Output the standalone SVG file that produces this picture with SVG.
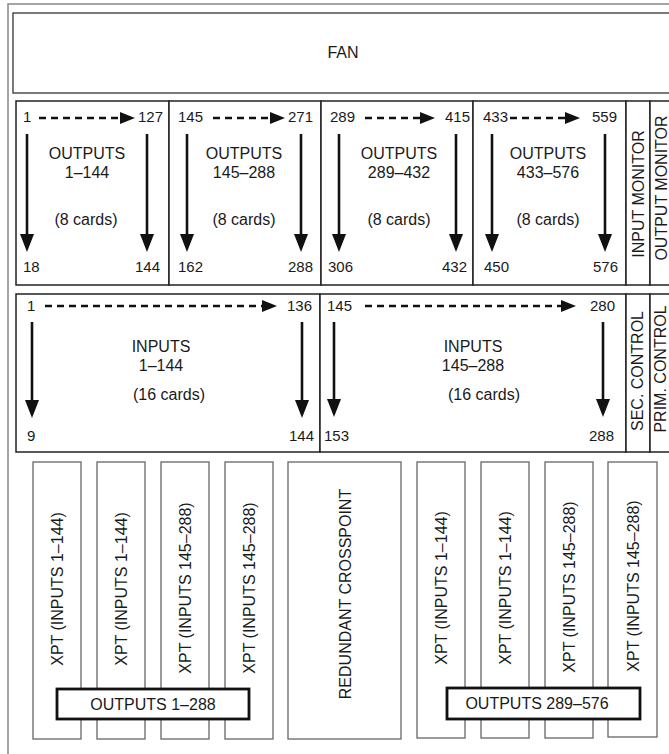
<svg xmlns="http://www.w3.org/2000/svg" width="669" height="754" viewBox="0 0 669 754">
<defs>
<marker id="ah" markerUnits="userSpaceOnUse" markerWidth="18" markerHeight="15" refX="7" refY="7" orient="auto"><path d="M0,0 L18,7 L0,14 z" fill="#111"/></marker>
<marker id="ahd" markerUnits="userSpaceOnUse" markerWidth="16" markerHeight="13" refX="4" refY="6" orient="auto"><path d="M0,0 L15,6 L0,12 z" fill="#111"/></marker>
</defs>
<style>
text{font-family:"Liberation Sans",Arial,sans-serif;fill:#1a1a1a}
.n{font-size:15px}
.l{font-size:16px;text-anchor:middle}
.e{text-anchor:end}
.frame{fill:none;stroke:#888;stroke-width:1.5}
.box{fill:#fff;stroke:#222;stroke-width:1.5}
.card{fill:#fff;stroke:#666;stroke-width:1.3}
.ob{fill:#fff;stroke:#111;stroke-width:2.8}
.sa{stroke:#111;stroke-width:2.6;fill:none;marker-end:url(#ah)}
.da{stroke:#111;stroke-width:2.4;stroke-dasharray:7 5;fill:none;marker-end:url(#ahd)}
.v{font-size:16px;text-anchor:middle}
</style>
<rect class="frame" x="8" y="4" width="680" height="770"/>
<g id="fan"><rect x="13" y="13" width="670" height="80" fill="#fff" stroke="#333" stroke-width="1.3"/><text class="l" x="343" y="58">FAN</text></g>
<g id="outputs-1"><rect class="box" x="16" y="101" width="153" height="184"/>
<text class="n" x="23" y="122">1</text><text class="n e" x="163" y="122">127</text>
<text class="n" x="23" y="272">18</text><text class="n e" x="160" y="272">144</text>
<text class="l" x="87" y="159">OUTPUTS</text><text class="l" x="87" y="178">1–144</text><text class="l" x="86" y="225">(8 cards)</text></g>
<g id="outputs-2"><rect class="box" x="169" y="101" width="152" height="184"/>
<text class="n" x="178" y="122">145</text><text class="n e" x="313" y="122">271</text>
<text class="n" x="178" y="272">162</text><text class="n e" x="313" y="272">288</text>
<text class="l" x="244" y="159">OUTPUTS</text><text class="l" x="244" y="178">145–288</text><text class="l" x="244" y="225">(8 cards)</text></g>
<g id="outputs-3"><rect class="box" x="321" y="101" width="152" height="184"/>
<text class="n" x="330" y="122">289</text><text class="n e" x="470" y="122">415</text>
<text class="n" x="328" y="272">306</text><text class="n e" x="467" y="272">432</text>
<text class="l" x="399" y="159">OUTPUTS</text><text class="l" x="399" y="178">289–432</text><text class="l" x="399" y="225">(8 cards)</text></g>
<g id="outputs-4"><rect class="box" x="473" y="101" width="153" height="184"/>
<text class="n" x="483" y="122">433</text><text class="n e" x="617" y="122">559</text>
<text class="n" x="484" y="272">450</text><text class="n e" x="618" y="272">576</text>
<text class="l" x="548" y="159">OUTPUTS</text><text class="l" x="548" y="178">433–576</text><text class="l" x="548" y="225">(8 cards)</text></g>
<g id="input-monitor"><rect class="box" x="626" y="101" width="24" height="184"/><text class="v" transform="translate(644,194) rotate(-90)">INPUT MONITOR</text></g>
<g id="output-monitor"><rect class="box" x="650" y="101" width="40" height="184"/><text class="v" transform="translate(667,188) rotate(-90)">OUTPUT MONITOR</text></g>
<g id="inputs-1"><rect class="box" x="16" y="294" width="304" height="158"/>
<text class="n" x="27" y="311">1</text><text class="n e" x="312" y="311">136</text>
<text class="n" x="27" y="441">9</text><text class="n e" x="314" y="441">144</text>
<text class="l" x="161" y="352">INPUTS</text><text class="l" x="161" y="371">1–144</text><text class="l" x="169" y="400">(16 cards)</text></g>
<g id="inputs-2"><rect class="box" x="320" y="294" width="306" height="158"/>
<text class="n" x="327" y="311">145</text><text class="n e" x="615" y="311">280</text>
<text class="n" x="324" y="441">153</text><text class="n e" x="614" y="441">288</text>
<text class="l" x="473" y="352">INPUTS</text><text class="l" x="473" y="371">145–288</text><text class="l" x="484" y="400">(16 cards)</text></g>
<g id="sec-control"><rect class="box" x="626" y="294" width="24" height="158"/><text class="v" transform="translate(643,371) rotate(-90)">SEC. CONTROL</text></g>
<g id="prim-control"><rect class="box" x="650" y="294" width="40" height="158"/><text class="v" transform="translate(666,369) rotate(-90)">PRIM. CONTROL</text></g>
<g id="xpt-1"><rect class="card" x="33" y="462" width="48" height="277"/><text class="v" transform="translate(63,589) rotate(-90)">XPT (INPUTS 1–144)</text></g>
<g id="xpt-2"><rect class="card" x="97" y="462" width="48" height="277"/><text class="v" transform="translate(127,589) rotate(-90)">XPT (INPUTS 1–144)</text></g>
<g id="xpt-3"><rect class="card" x="161" y="462" width="48" height="277"/><text class="v" transform="translate(191,588) rotate(-90)">XPT (INPUTS 145–288)</text></g>
<g id="xpt-4"><rect class="card" x="225" y="462" width="48" height="277"/><text class="v" transform="translate(255,588) rotate(-90)">XPT (INPUTS 145–288)</text></g>
<g id="redundant"><rect class="card" x="288" y="462" width="113" height="277"/><text class="v" transform="translate(351,594) rotate(-90)">REDUNDANT CROSSPOINT</text></g>
<g id="xpt-6"><rect class="card" x="417" y="462" width="48" height="276"/><text class="v" transform="translate(447,588) rotate(-90)">XPT (INPUTS 1–144)</text></g>
<g id="xpt-7"><rect class="card" x="481" y="462" width="48" height="276"/><text class="v" transform="translate(511,588) rotate(-90)">XPT (INPUTS 1–144)</text></g>
<g id="xpt-8"><rect class="card" x="545" y="462" width="48" height="276"/><text class="v" transform="translate(575,587) rotate(-90)">XPT (INPUTS 145–288)</text></g>
<g id="xpt-9"><rect class="card" x="608" y="462" width="49" height="275"/><text class="v" transform="translate(639,586) rotate(-90)">XPT (INPUTS 145–288)</text></g>
<g id="outputs-1-288"><rect class="ob" x="57" y="689" width="192" height="30"/><text class="l" x="153" y="710">OUTPUTS 1–288</text></g>
<g id="outputs-289-576"><rect class="ob" x="447" y="688" width="193" height="31"/><text class="l" x="537" y="709">OUTPUTS 289–576</text></g>
<g id="connectors">
<line class="da" x1="39" y1="118" x2="124" y2="118"/>
<line class="da" x1="213" y1="118" x2="274" y2="118"/>
<line class="da" x1="365" y1="118" x2="424" y2="118"/>
<line class="da" x1="510" y1="118" x2="569" y2="118"/>
<line class="sa" x1="27" y1="134" x2="27" y2="241"/>
<line class="sa" x1="147" y1="134" x2="147" y2="241"/>
<line class="sa" x1="187" y1="134" x2="187" y2="241"/>
<line class="sa" x1="301" y1="134" x2="301" y2="241"/>
<line class="sa" x1="339" y1="134" x2="339" y2="241"/>
<line class="sa" x1="456" y1="134" x2="456" y2="241"/>
<line class="sa" x1="492" y1="134" x2="492" y2="241"/>
<line class="sa" x1="605" y1="134" x2="605" y2="241"/>
<line class="da" x1="45" y1="306" x2="266" y2="306"/>
<line class="da" x1="365" y1="306" x2="565" y2="306"/>
<line class="sa" x1="32" y1="322" x2="32" y2="407"/>
<line class="sa" x1="302" y1="322" x2="302" y2="407"/>
<line class="sa" x1="334" y1="322" x2="334" y2="406"/>
<line class="sa" x1="603" y1="322" x2="603" y2="406"/>
</g>
</svg>
